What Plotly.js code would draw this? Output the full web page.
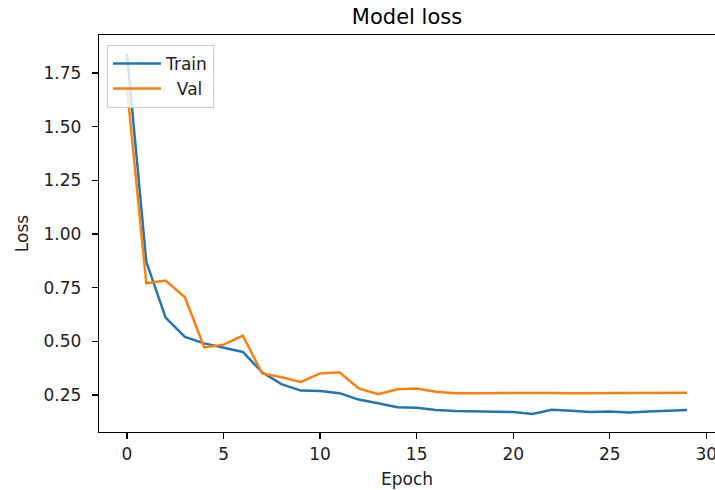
<!DOCTYPE html>
<html>
<head>
<meta charset="utf-8">
<script src="https://cdn.plot.ly/plotly-3.0.1.min.js"></script>
<style>html,body{margin:0;padding:0;background:#fff;}#chart{width:715px;height:490px;}</style>
</head>
<body>
<div id="chart"></div>
<script>
const epochs = [0,1,2,3,4,5,6,7,8,9,10,11,12,13,14,15,16,17,18,19,20,21,22,23,24,25,26,27,28,29];
const trainLoss = [1.84,0.87,0.61,0.52,0.49,0.47,0.45,0.355,0.30,0.27,0.268,0.258,0.228,0.211,0.192,0.19,0.18,0.175,0.173,0.172,0.17,0.161,0.181,0.176,0.17,0.173,0.168,0.172,0.177,0.179];
const valLoss = [1.68,0.77,0.783,0.705,0.471,0.484,0.526,0.35,0.332,0.31,0.35,0.355,0.28,0.253,0.276,0.28,0.265,0.258,0.258,0.259,0.258,0.258,0.259,0.258,0.258,0.259,0.26,0.258,0.259,0.26];
const seriesNames = ['Train', '\u00a0\u00a0Val'];
const yTicks = [0.25,0.50,0.75,1.00,1.25,1.50,1.75];
const yTickText = ['0.25','0.50','0.75','1.00','1.25','1.50','1.75'];
const xTicks = [0,5,10,15,20,25,30];

const font = 'DejaVu Sans, sans-serif';
const data = [
  {x: epochs, y: trainLoss, name: seriesNames[0], type: 'scatter', mode: 'lines',
   line: {color: '#1f77b4', width: 2.5}},
  {x: epochs, y: valLoss, name: seriesNames[1], type: 'scatter', mode: 'lines',
   line: {color: '#ff7f0e', width: 2.5}}
];
const layout = {
  width: 715, height: 490,
  margin: {l: 99, r: 0, t: 35, b: 58, pad: 0},
  paper_bgcolor: '#fff', plot_bgcolor: '#fff',
  font: {family: font, size: 17, color: '#000'},
  title: {text: 'Model loss', font: {family: font, size: 21, color: '#000'},
          x: 0.5, xref: 'paper', xanchor: 'center', y: 1 - 17/490, yref: 'container', yanchor: 'middle'},
  showlegend: true,
  legend: {x: 0.013, y: 0.975, xanchor: 'left', yanchor: 'top', itemwidth: 48,
           bgcolor: 'rgba(255,255,255,0.8)', bordercolor: '#cccccc', borderwidth: 1,
           font: {family: font, size: 17, color: '#222'}, tracegroupgap: 0},
  xaxis: {range: [-1.45, 30.45], tickvals: xTicks, ticks: 'outside', ticklen: 6, tickwidth: 1.3,
          tickcolor: '#000', showline: true, linecolor: '#000', linewidth: 1.3, mirror: true,
          showgrid: false, zeroline: false, automargin: false, ticklabeloverflow: 'allow',
          tickfont: {family: font, size: 17, color: '#222'},
          title: {text: 'Epoch', font: {family: font, size: 17, color: '#222'}, standoff: 10}},
  yaxis: {range: [0.077, 1.927], tickvals: yTicks, ticktext: yTickText, ticks: 'outside', ticklen: 6, tickwidth: 1.3,
          tickcolor: '#000', showline: true, linecolor: '#000', linewidth: 1.3,
          showgrid: false, zeroline: false, automargin: false, ticklabelstandoff: 7,
          tickfont: {family: font, size: 17, color: '#222'},
          title: {text: 'Loss', font: {family: font, size: 17, color: '#222'}, standoff: 10}}
};
Plotly.newPlot('chart', data, layout, {displayModeBar: false, staticPlot: true});
</script>
</body>
</html>
